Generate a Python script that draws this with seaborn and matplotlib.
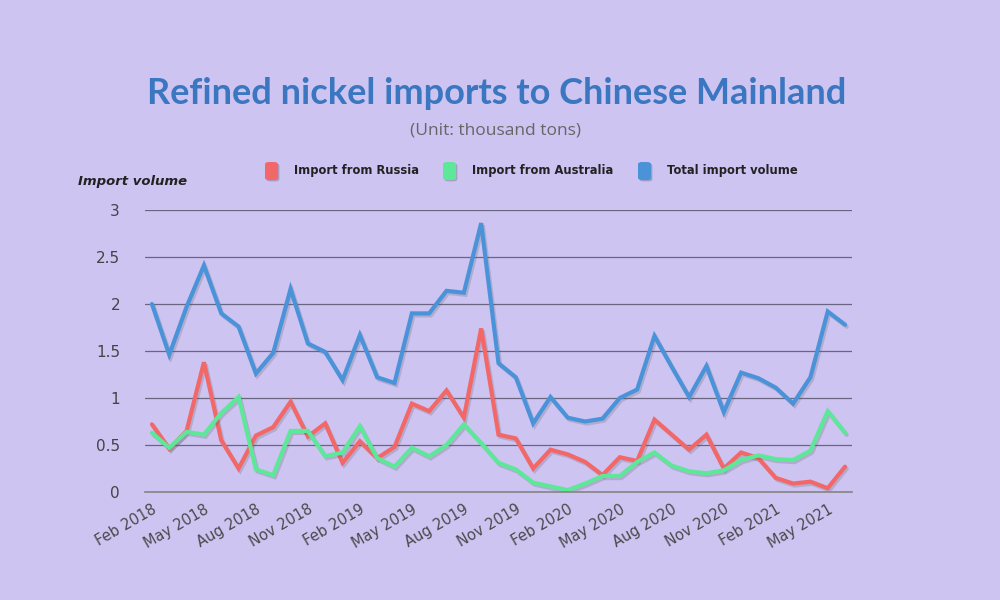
import numpy as np
import pandas as pd
import seaborn as sns
import matplotlib.pyplot as plt
import matplotlib.patheffects as pe
from matplotlib.patches import FancyBboxPatch

months = pd.date_range("2018-02-01", "2021-06-01", freq="MS").strftime("%b %Y").tolist()

russia = [0.72, 0.46, 0.65, 1.38, 0.55, 0.25, 0.60, 0.69, 0.96, 0.59, 0.73, 0.31, 0.54, 0.36,
          0.48, 0.94, 0.86, 1.08, 0.79, 1.74, 0.61, 0.57, 0.25, 0.45, 0.40, 0.32, 0.18,
          0.37, 0.33, 0.77, 0.61, 0.45, 0.61, 0.25, 0.42, 0.36, 0.15, 0.09, 0.11, 0.04, 0.27]
australia = [0.63, 0.47, 0.64, 0.61, 0.84, 1.01, 0.24, 0.18, 0.65, 0.65, 0.38, 0.42, 0.70, 0.36,
             0.27, 0.47, 0.38, 0.50, 0.72, 0.52, 0.31, 0.24, 0.10, 0.06, 0.02, 0.09, 0.17,
             0.17, 0.32, 0.42, 0.28, 0.22, 0.20, 0.23, 0.34, 0.39, 0.35, 0.34, 0.44, 0.86, 0.63]
total = [2.00, 1.46, 1.97, 2.41, 1.90, 1.76, 1.26, 1.48, 2.16, 1.58, 1.49, 1.19, 1.67, 1.22,
         1.16, 1.90, 1.90, 2.14, 2.12, 2.86, 1.37, 1.22, 0.73, 1.01, 0.79, 0.75, 0.78,
         1.00, 1.09, 1.66, 1.33, 1.01, 1.34, 0.85, 1.27, 1.21, 1.11, 0.94, 1.22, 1.92, 1.78]

series_names = ["Import from Russia", "Import from Australia", "Total import volume"]
colors = ["#f26868", "#5de899", "#4a93d9"]

df = pd.DataFrame({
    "month": months * 3,
    "idx": list(range(len(months))) * 3,
    "value": russia + australia + total,
    "series": sum([[n] * len(months) for n in series_names], []),
})

bg = "#cdc4f2"
sns.set_theme(style="white")
plt.rcParams["font.family"] = ["DejaVu Sans"]

fig = plt.figure(figsize=(10, 6), dpi=100, facecolor=bg)
ax = fig.add_axes([0.145, 0.18, 0.707, 0.47])
ax.set_facecolor(bg)

sns.lineplot(data=df, x="idx", y="value", hue="series", hue_order=series_names,
             palette=colors, linewidth=3.0, ax=ax, legend=False)
for ln in ax.get_lines():
    ln.set_path_effects([pe.SimpleLineShadow(offset=(1.2, -1.5), shadow_color="#555", alpha=0.22),
                         pe.Normal()])
    ln.set_solid_joinstyle("miter")

ax.set_ylim(0, 3)
ax.set_xlim(-0.4, 40.4)
ax.set_yticks(np.arange(0, 3.01, 0.5))
ax.set_yticklabels(["0", "0.5", "1", "1.5", "2", "2.5", "3"], fontsize=11, color="#444")
ax.yaxis.grid(True, color="#6a6580", linewidth=0.9)
ax.xaxis.grid(False)
ax.set_axisbelow(True)
tick_idx = list(range(0, 40, 3))
ax.set_xticks(tick_idx)
ax.set_xticklabels([months[i] for i in tick_idx], rotation=30, ha="right",
                   rotation_mode="anchor", fontsize=10.5, color="#4a4a4a")
ax.tick_params(axis="x", length=4, color="#888", width=1, pad=3)
ax.tick_params(axis="y", length=0, pad=18)
for s in ["top", "right", "left"]:
    ax.spines[s].set_visible(False)
ax.spines["bottom"].set_color("#888")
ax.set_xlabel("")
ax.set_ylabel("")

fig.text(0.497, 0.845, "Refined nickel imports to Chinese Mainland", ha="center", va="center",
         fontsize=26, fontweight="bold", color="#3a77c0", family="Lato")
fig.text(0.495, 0.782, "(Unit: thousand tons)", ha="center", va="center",
         fontsize=12.5, color="#666", family="Open Sans")
fig.text(0.078, 0.698, "Import volume", ha="left", va="center", fontsize=9.5,
         fontweight="bold", fontstyle="italic", color="#222", family="DejaVu Sans")

legend_x = [0.265, 0.443, 0.638]
for x0, c, name in zip(legend_x, colors, series_names):
    box = FancyBboxPatch((x0, 0.700), 0.013, 0.03, boxstyle="round,pad=0,rounding_size=0.004",
                         transform=fig.transFigure, facecolor=c, edgecolor="none",
                         path_effects=[pe.SimplePatchShadow(offset=(1, -1), alpha=0.25), pe.Normal()])
    fig.patches.append(box)
    fig.text(x0 + 0.029, 0.716, name, ha="left", va="center", fontsize=8.3,
             fontweight="bold", color="#222", family="DejaVu Sans")

fig.savefig("out.png", dpi=100, facecolor=bg)
